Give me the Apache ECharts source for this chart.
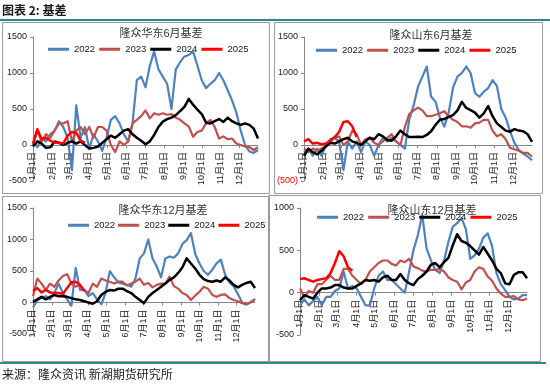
<!DOCTYPE html>
<html><head><meta charset="utf-8">
<script src="https://cdn.jsdelivr.net/npm/echarts@6/dist/echarts.min.js"></script>
<style>html,body{margin:0;padding:0;background:#fff}#c{width:550px;height:388px}</style>
</head><body><div id="c"></div>
<script>
const SERIES_NAMES = ['2022','2023','2024','2025'];
const COLORS = ['#4f81bd','#c0504d','#000000','#ff0000'];
const MONTH_DAYS = [31,28,31,30,31,30,31,31,30,31,30,31];
const DAYS = [0,7,14,21,28,35,42,49,56,63,70,77,84,91,98,105,112,119,126,133,140,147,154,161,168,175,182,189,196,203,210,217,224,231,238,245,252,259,266,273,280,287,294,301,308,315,322,329,336,343,350,357,364];
const TITLES = ['隆众华东6月基差','隆众山东6月基差','隆众华东12月基差','隆众山东12月基差'];
const Y_TICKS_A = [-500,0,500,1000,1500];
const Y_TICKS_B = [-500,0,500,1000];

// 隆众华东6月基差
const P1_2022 = [50,-30,100,50,150,200,330,250,100,-350,550,100,250,-50,150,50,-80,100,350,400,300,150,50,300,900,950,800,1100,1300,1050,950,850,500,1050,1150,1230,1250,1300,1100,900,790,850,900,1000,900,760,620,450,200,0,-90,-110,-70];
const P1_2023 = [0,200,50,150,100,200,300,300,330,50,200,250,150,250,100,250,250,200,0,-100,50,0,50,300,350,400,480,370,440,420,440,420,430,380,350,300,255,115,180,200,300,350,250,90,120,80,90,20,0,-20,-30,-70,-30];
const P1_2024 = [-20,50,20,-40,-30,50,30,0,30,50,20,50,0,-50,-40,-20,30,80,130,100,150,200,220,150,100,60,10,50,140,250,325,360,380,415,470,530,640,560,490,430,310,300,330,360,320,380,330,300,280,300,280,230,90];
const P1_2025 = [20,220,80,100,60,30,30,20,130,180,170,60,30];
// 隆众山东6月基差
const P2_2022 = [-100,-50,-150,-50,-150,0,80,100,50,-350,50,-50,50,-100,50,0,-150,0,100,50,100,50,0,-50,350,550,810,950,1090,670,600,380,255,450,800,950,1000,1090,1000,720,670,740,790,900,820,500,380,190,30,-70,-120,-160,-210];
const P2_2023 = [-50,-100,-50,-80,-50,-20,50,100,120,0,50,200,150,0,80,100,30,0,50,100,150,50,0,250,430,480,520,480,400,400,420,440,470,400,350,320,260,260,240,300,310,350,350,200,120,150,80,-40,-60,-80,-110,-110,-160];
const P2_2024 = [-150,-50,-100,-130,-80,-20,30,20,50,80,100,50,30,0,50,100,80,150,120,70,60,120,200,150,110,110,115,110,140,190,280,350,360,390,415,480,600,515,485,450,380,440,540,400,300,250,200,185,220,200,190,150,45];
const P2_2025 = [50,80,20,30,10,20,60,110,180,320,330,260,110];
// 隆众华东12月基差
const P3_2022 = [-80,30,80,100,50,150,300,150,50,-50,550,200,200,100,150,50,-30,150,500,400,320,300,280,250,380,700,780,1000,700,570,400,700,730,710,780,930,990,1100,770,620,500,440,520,620,680,440,320,260,130,0,-30,0,60];
const P3_2023 = [100,380,300,200,300,250,350,420,450,300,250,280,200,150,300,250,380,350,330,300,330,330,270,300,330,380,280,310,240,280,300,300,410,260,220,150,120,40,110,170,250,220,120,90,120,130,70,40,20,-10,-30,10,40];
const P3_2024 = [10,50,90,50,90,120,100,100,90,70,50,40,20,0,-20,20,120,170,200,190,220,220,180,150,90,40,-10,90,150,200,250,300,360,400,470,560,700,620,540,440,370,340,330,350,330,400,350,280,240,280,310,330,230];
const P3_2025 = [180,230,160,200,160,150,150,140,230,320,330,280,180];
// 隆众山东12月基差
const P4_2022 = [-150,-80,-150,-100,-50,-150,-50,-50,20,50,250,50,80,50,-50,-150,-150,50,200,250,150,150,100,50,0,250,505,680,920,520,380,270,230,380,600,780,820,880,750,400,440,520,650,700,550,230,100,30,-50,-80,-70,-30,-30];
const P4_2023 = [50,-50,20,0,100,100,150,200,150,150,280,280,200,150,100,150,250,300,350,380,380,340,320,380,360,400,310,290,260,250,270,270,280,250,180,150,130,40,120,150,250,300,280,190,140,50,-10,-50,-50,-40,-80,-90,-70];
const P4_2024 = [-90,-30,-50,-70,0,50,50,60,90,90,60,50,50,80,110,150,140,150,130,180,200,150,150,220,150,110,90,160,200,250,330,350,300,360,410,560,690,610,590,550,500,450,540,460,380,280,230,110,100,210,240,240,170];
const P4_2025 = [160,170,150,130,150,160,170,230,350,490,430,300,260];

const PANEL_DATA = [
  [P1_2022,P1_2023,P1_2024,P1_2025],
  [P2_2022,P2_2023,P2_2024,P2_2025],
  [P3_2022,P3_2023,P3_2024,P3_2025],
  [P4_2022,P4_2023,P4_2024,P4_2025]
];

const CATS = [];
MONTH_DAYS.forEach((n,m)=>{ for(let d=1; d<=n; d++) CATS.push((m+1)+'月'+d+'日'); });

const FONT = "'Liberation Sans','Noto Sans CJK SC',sans-serif";
const isMonthStart = (i,v)=>/月1日$/.test(v);

const GRIDS = [
  {left:33, top:37, width:225, height:144},
  {left:304, top:37, width:228, height:144},
  {left:33, top:208, width:222, height:126},
  {left:300, top:208, width:227, height:127}
];
const YRANGE = [Y_TICKS_A, Y_TICKS_A, Y_TICKS_A, Y_TICKS_B];
const TITLE_POS = [[161,34],[431,36],[163,211],[432,211]];
const LEGEND_POS = [[48,44.5],[316,45.5],[68,220.5],[317,212.5]];
const LEGEND_GAP = [4,4,3,4];

const xAxes = GRIDS.map((g,i)=>{
  const ymin = YRANGE[i][0], ymax = YRANGE[i][YRANGE[i].length-1];
  const zeroOffset = -g.height * (0 - ymin) / (ymax - ymin);
  return {
    type:'category', gridIndex:i, data:CATS, boundaryGap:false, position:'bottom', offset:zeroOffset,
    axisLine:{show:true, onZero:false, lineStyle:{color:'#868686', width:1}},
    axisTick:{show:true, interval:isMonthStart, length:3, lineStyle:{color:'#868686'}},
    axisLabel:{interval:isMonthStart, rotate:90, fontSize:9, color:'#1a1a1a', margin:7, fontFamily:FONT},
    splitLine:{show:false}
  };
});
const yAxes = GRIDS.map((g,i)=>({
  type:'value', gridIndex:i, min:YRANGE[i][0], max:YRANGE[i][YRANGE[i].length-1], interval:500,
  axisLine:{show:true, lineStyle:{color:'#868686', width:1}},
  axisTick:{show:true, length:3, lineStyle:{color:'#868686'}},
  splitLine:{show:false},
  axisLabel:{fontSize:9, color:'#1a1a1a', margin:6, fontFamily:FONT,
    formatter: i===1 ? (v=> v<0 ? '{neg|('+(-v)+')}' : String(v)) : (v=>String(v)),
    rich:{neg:{color:'#ff0000', fontSize:9, fontFamily:FONT}}}
}));

const series = [];
PANEL_DATA.forEach((arrs,i)=>{
  arrs.forEach((vals,k)=>{
    series.push({
      type:'line', name:SERIES_NAMES[k], xAxisIndex:i, yAxisIndex:i,
      data: vals.map((v,j)=>[DAYS[j], v]),
      symbol:'none', showSymbol:false,
      lineStyle:{width: k>=2 ? 2.5 : 2.2, color:COLORS[k], join:'round'},
      itemStyle:{color:COLORS[k]},
      z: 2+k, animation:false
    });
  });
});

const legends = LEGEND_POS.map((p,i)=>({
  data:SERIES_NAMES, left:p[0], top:p[1], icon:'rect', itemWidth:21, itemHeight:3,
  itemGap:LEGEND_GAP[i], padding:0, selectedMode:false,
  textStyle:{fontSize:9.5, color:'#1a1a1a', fontFamily:FONT}
}));

const graphics = [
  {type:'rect', shape:{x:0,y:19,width:550,height:2}, style:{fill:'#2a8a8a'}},
  {type:'rect', shape:{x:0,y:362,width:546,height:2}, style:{fill:'#2a8a8a'}},
  {type:'rect', shape:{x:2.5,y:22.5,width:267,height:171}, style:{fill:'none',stroke:'#9a9a9a',lineWidth:1}},
  {type:'rect', shape:{x:274.5,y:22.5,width:268,height:171}, style:{fill:'none',stroke:'#9a9a9a',lineWidth:1}},
  {type:'rect', shape:{x:2.5,y:196.5,width:267,height:165}, style:{fill:'none',stroke:'#9a9a9a',lineWidth:1}},
  {type:'rect', shape:{x:268.5,y:195.5,width:272,height:166}, style:{fill:'none',stroke:'#9a9a9a',lineWidth:1}},
  {type:'text', x:2, y:10, style:{text:'图表 2: 基差', font:"bold 12px 'Noto Sans CJK SC'", fill:'#1a1a1a', verticalAlign:'middle'}},
  {type:'text', x:2, y:374, style:{text:'来源：隆众资讯 新湖期货研究所', font:"12px 'Noto Sans CJK SC'", fill:'#1a1a1a', verticalAlign:'middle'}}
];
TITLES.forEach((t,i)=>{
  graphics.push({type:'text', x:TITLE_POS[i][0], y:TITLE_POS[i][1], z:10,
    style:{text:t, font:"11px 'Liberation Sans','Noto Sans CJK SC'", fill:'#333', align:'center', verticalAlign:'middle'}});
});

const chart = echarts.init(document.getElementById('c'), null, {renderer:'canvas'});
chart.setOption({
  animation:false,
  backgroundColor:'#ffffff',
  grid: GRIDS.map(g=>Object.assign({outerBoundsMode:'none', containLabel:false}, g)),
  xAxis:xAxes, yAxis:yAxes, legend:legends, series, graphic:graphics
});
</script></body></html>
